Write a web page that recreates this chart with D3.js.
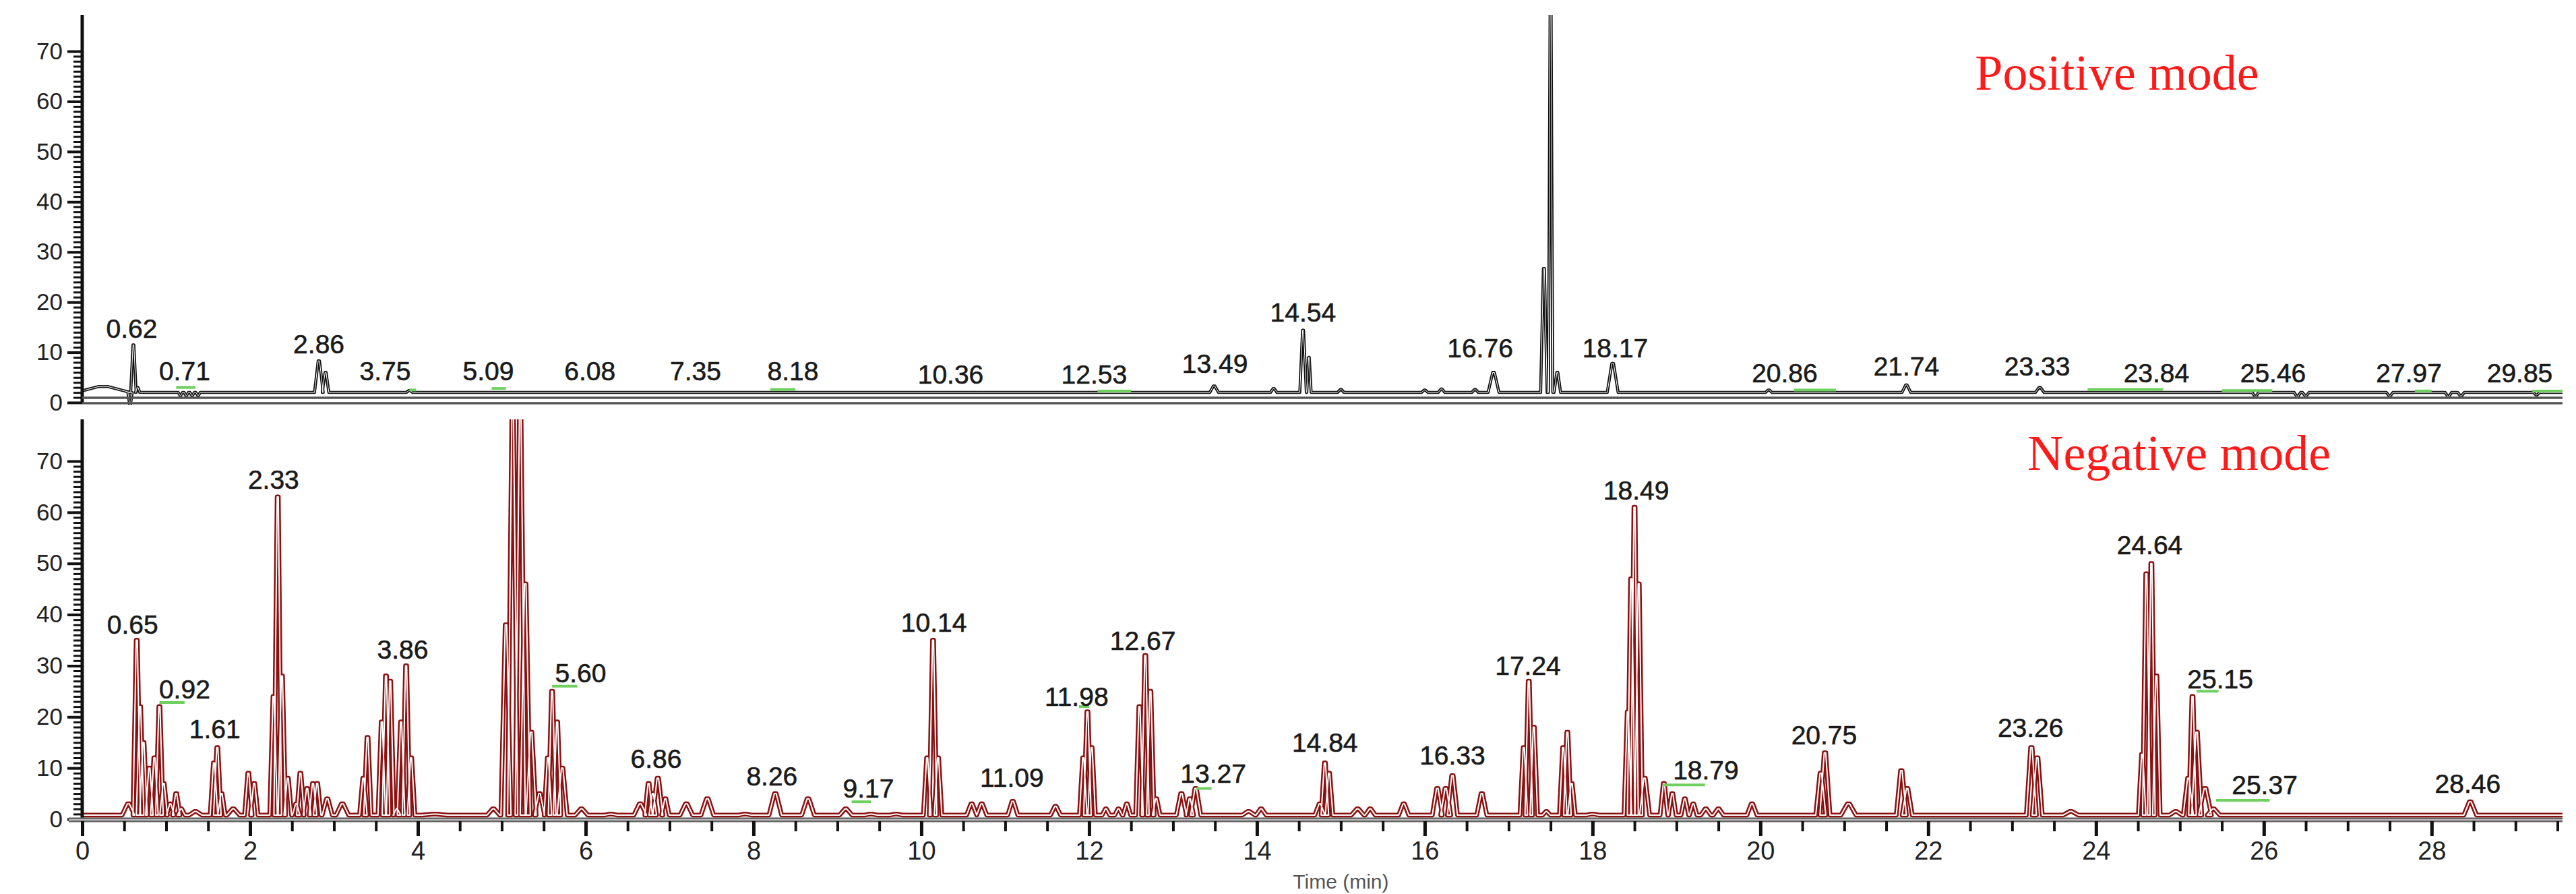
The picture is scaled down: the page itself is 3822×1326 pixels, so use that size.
<!DOCTYPE html>
<html>
<head>
<meta charset="utf-8">
<script src="https://cdn.jsdelivr.net/npm/d3@7"></script>
<style>
  html, body { margin: 0; padding: 0; background: #fff; overflow: hidden; }
  text { font-family: "Liberation Sans", Arial, sans-serif; }
</style>
</head>
<body>
<svg id="chart" width="3822" height="1326"></svg>
<script>
// peaks: [time (min), height, half width]
var posBaseline = 2;
var posPeaks = [
  [0.25, 3.2, 0.25], [0.57, -0.5, 0.02], [0.61, 11.5, 0.025], [0.66, 3, 0.02],
  [1.17, 1.4, 0.02], [1.24, 1.4, 0.02], [1.31, 1.4, 0.02], [1.38, 1.4, 0.02],
  [2.82, 8.3, 0.04], [2.9, 6, 0.03], [3.9, 2.4, 0.03], [13.49, 3.3, 0.04], [14.2, 2.8, 0.03],
  [14.55, 14.4, 0.03], [14.62, 9, 0.02], [15.0, 2.6, 0.03], [16.0, 2.5, 0.03], [16.2, 2.7, 0.03],
  [16.6, 2.6, 0.03], [16.82, 6, 0.05], [17.42, 26.7, 0.03], [17.5, 85, 0.02], [17.58, 6, 0.03],
  [18.24, 7.8, 0.05], [20.1, 2.5, 0.03], [21.74, 3.5, 0.04], [23.33, 3, 0.04], [25.9, 1.2, 0.03],
  [26.4, 1.2, 0.03], [26.5, 1.3, 0.03], [27.5, 1.3, 0.03], [28.2, 1.2, 0.03], [28.35, 1.3, 0.03], [29.25, 1.5, 0.03]
];
var negBaseline = 0.8;
var negPeaks = [
  [0.55,3,0.05],[0.65,35,0.03],[0.69,22,0.03],[0.73,15,0.03],[0.8,10,0.03],[0.86,12,0.03],[0.92,22,0.03],
  [0.97,7,0.03],[1.05,3,0.03],[1.12,5,0.03],[1.18,2,0.03],[1.35,1.5,0.05],[1.57,11,0.03],[1.61,14,0.03],
  [1.66,5,0.03],[1.8,2,0.05],[1.98,9,0.03],[2.05,7,0.03],[2.28,24,0.03],[2.33,63,0.03],[2.38,28,0.03],
  [2.45,8,0.03],[2.55,3,0.03],[2.6,9,0.03],[2.68,6,0.03],[2.75,7,0.03],[2.8,7,0.03],[2.92,4,0.04],
  [3.1,3,0.05],[3.35,8,0.03],[3.4,16,0.03],[3.57,19,0.03],[3.62,28,0.03],[3.67,27,0.03],[3.75,2,0.03],
  [3.8,19,0.03],[3.86,30,0.03],[3.92,12,0.03],[4.2,1,0.1],[4.9,2,0.05],[5.05,38,0.04],[5.13,80,0.04],
  [5.22,80,0.04],[5.28,46,0.04],[5.35,17,0.04],[5.45,5,0.04],[5.55,12,0.03],[5.6,25,0.03],[5.66,19,0.03],
  [5.72,10,0.04],[5.95,2,0.05],[6.3,1,0.05],[6.65,3,0.05],[6.75,7,0.03],[6.8,5,0.03],[6.86,8,0.04],
  [6.95,4,0.03],[7.2,3,0.05],[7.45,4,0.05],[7.9,1,0.05],[8.26,5,0.05],[8.65,4,0.05],[9.1,2,0.05],
  [9.4,1,0.05],[9.7,1,0.05],[10.07,12,0.03],[10.14,35,0.03],[10.2,12,0.03],[10.6,3,0.04],[10.72,3,0.04],
  [11.09,3.5,0.04],[11.6,2.5,0.04],[11.93,12,0.03],[11.98,21,0.03],[12.03,14,0.03],[12.2,2,0.03],
  [12.35,2,0.03],[12.45,3,0.03],[12.6,22,0.03],[12.67,32,0.03],[12.73,25,0.03],[12.8,4,0.03],[13.1,5,0.04],
  [13.2,4,0.03],[13.27,6,0.04],[13.9,1.5,0.05],[14.05,2,0.04],[14.75,3,0.04],[14.81,11,0.03],[14.86,9,0.03],
  [15.2,2,0.05],[15.35,2,0.04],[15.75,3,0.04],[16.15,6,0.04],[16.25,6,0.04],[16.33,8.5,0.04],[16.68,5,0.04],
  [17.18,14,0.03],[17.24,27,0.03],[17.3,18,0.03],[17.45,1.5,0.03],[17.65,14,0.03],[17.7,17,0.03],
  [17.75,7,0.03],[18.0,1,0.05],[18.42,21,0.03],[18.46,47,0.03],[18.5,61,0.03],[18.55,46,0.03],
  [18.62,8,0.04],[18.85,7,0.03],[18.95,5,0.03],[19.1,4,0.03],[19.2,3,0.03],[19.35,2,0.04],[19.5,2,0.04],
  [19.9,3,0.04],[20.72,9,0.04],[20.77,13,0.04],[21.05,3,0.06],[21.68,9.5,0.04],[21.75,6,0.04],
  [23.23,14,0.04],[23.3,12,0.04],[23.7,1.5,0.06],[24.55,12.7,0.03],[24.6,48,0.03],[24.66,50,0.03],
  [24.72,28,0.03],[24.95,1.5,0.05],[25.1,8,0.04],[25.15,24,0.03],[25.2,17,0.04],[25.3,6,0.05],
  [25.4,2,0.05],[28.46,3.4,0.05]
];
// labels: [text, time position, height]
var posLabels = [
  ["0.62",0.59,12.9],["0.71",1.22,4.4],["2.86",2.82,9.8],["3.75",3.61,4.4],["5.09",4.84,4.4],
  ["6.08",6.05,4.4],["7.35",7.31,4.4],["8.18",8.47,4.4],["10.36",10.35,3.8],["12.53",12.06,3.8],
  ["13.49",13.5,5.9],["14.54",14.55,16.1],["16.76",16.66,9],["18.17",18.27,9],["20.86",20.29,4],
  ["21.74",21.74,5.4],["23.33",23.3,5.4],["23.84",24.72,4],["25.46",26.11,4],["27.97",27.73,4],["29.85",29.05,4]
];
var negLabels = [
  ["0.65",0.6,36.2],["0.92",1.22,23.6],["1.61",1.58,15.8],["2.33",2.28,64.6],["3.86",3.82,31.4],
  ["5.60",5.94,26.7],["6.86",6.84,10],["8.26",8.22,6.6],["9.17",9.37,4.2],["10.14",10.15,36.6],
  ["11.09",11.08,6.3],["11.98",11.85,22.1],["12.67",12.64,33.1],["13.27",13.48,7.1],["14.84",14.81,13.2],
  ["16.33",16.33,10.7],["17.24",17.23,28.2],["18.49",18.52,62.5],["18.79",19.35,7.8],["20.75",20.76,14.6],
  ["23.26",23.22,16.1],["24.64",24.64,51.8],["25.15",25.48,25.6],["25.37",26.01,4.9],["28.46",28.43,5.1]
];
// integration marks: [start, end, height]
var posMarks = [[1.12,1.35,3.0],[3.9,3.98,2.5],[4.88,5.05,2.8],[8.2,8.5,2.6],[12.1,12.5,2.3],
  [20.4,20.9,2.5],[23.9,24.8,2.6],[25.5,26.1,2.4],[27.8,28.0,2.3],[29.2,29.6,2.3]];
var negMarks = [[0.92,1.22,22.8],[5.6,5.9,26],[9.17,9.4,3.4],[11.88,12.0,22],[13.28,13.46,6],
  [18.84,19.34,6.7],[25.2,25.46,25],[25.43,26.07,3.7]];
var yTicks = [0, 10, 20, 30, 40, 50, 60, 70];
var xTicks = [0, 2, 4, 6, 8, 10, 12, 14, 16, 18, 20, 22, 24, 26, 28];

var svg = d3.select("#chart");
var x = d3.scaleLinear().domain([0, 29.56]).range([122, 3802]);

function toPoints(peaks, base, spread) {
  var pts = [[0, base]];
  peaks.forEach(function(p) {
    var w = p[2] * spread;
    pts.push([p[0] - w, base], [p[0] - w * 0.15, p[1]], [p[0] + w * 0.15, p[1]], [p[0] + w, base]);
  });
  pts.push([29.56, base]);
  return pts;
}

function panel(o) {
  var y = d3.scaleLinear().domain([0, 70]).range([o.y0, o.y70]);
  var clipId = "clip" + o.name;
  svg.append("clipPath").attr("id", clipId).append("rect")
    .attr("x", x(0)).attr("y", o.top).attr("width", x(29.56) - x(0)).attr("height", o.y0 - o.top + 4);
  var g = svg.append("g").attr("clip-path", "url(#" + clipId + ")");
  var line = d3.line().x(function(d) { return x(d[0]); }).y(function(d) { return y(d[1]); });
  var pts = toPoints(o.peaks, o.base, o.spread);
  g.append("path").attr("d", line(pts)).attr("fill", "none")
    .attr("stroke", o.color).attr("stroke-width", o.outer).attr("stroke-linejoin", "round");
  g.append("path").attr("d", line(pts)).attr("fill", "none")
    .attr("stroke", "#fff").attr("stroke-width", o.inner).attr("stroke-linejoin", "round");
  g.selectAll(".mark").data(o.marks).enter().append("line")
    .attr("x1", function(d) { return x(d[0]); }).attr("x2", function(d) { return x(d[1]); })
    .attr("y1", function(d) { return y(d[2]); }).attr("y2", function(d) { return y(d[2]); })
    .attr("stroke", "#6fcf5f").attr("stroke-width", 4);
  svg.append("clipPath").attr("id", clipId + "l").append("rect")
    .attr("x", 0).attr("y", 0).attr("width", x(29.56)).attr("height", 1326);
  var lg = svg.append("g").attr("clip-path", "url(#" + clipId + "l)");
  lg.selectAll("text").data(o.labels).enter().append("text")
    .attr("x", function(d) { return x(d[1]); }).attr("y", function(d) { return y(d[2]); })
    .attr("text-anchor", "middle").attr("font-size", 39).attr("fill", "#1a1a1a")
    .attr("stroke", "#1a1a1a").attr("stroke-width", 0.6)
    .text(function(d) { return d[0]; });

  // y axis: minor ticks every unit, labelled every 10
  var minor = d3.range(0, 71, 1);
  svg.append("g").attr("transform", "translate(" + x(0) + ",0)")
    .call(d3.axisLeft(y).tickValues(minor).tickSize(13).tickFormat("").tickSizeOuter(0))
    .call(function(a) { a.select(".domain").remove(); a.selectAll("line").attr("stroke", "#111").attr("stroke-width", 3); });
  var ya = svg.append("g").attr("transform", "translate(" + x(0) + ",0)")
    .call(d3.axisLeft(y).tickValues(yTicks).tickSize(22).tickSizeOuter(0));
  ya.select(".domain").remove();
  ya.selectAll("line").attr("stroke", "#111").attr("stroke-width", 4);
  ya.selectAll("text").attr("font-size", 35).attr("fill", "#222").attr("dx", "-4");
  svg.append("line").attr("x1", x(0)).attr("x2", x(0)).attr("y1", o.top).attr("y2", o.y0 + 2)
    .attr("stroke", "#111").attr("stroke-width", 5);

  svg.append("text").attr("x", o.titleX).attr("y", o.titleY).attr("text-anchor", "middle")
    .style("font-family", "'Liberation Serif', 'Times New Roman', serif")
    .attr("font-size", 74).attr("fill", "#ff1a1a").text(o.title);
  return y;
}

panel({ name: "pos", y0: 597, y70: 76, top: 22, peaks: posPeaks, base: posBaseline, spread: 1.3,
  color: "#111", outer: 4.5, inner: 1.0, labels: posLabels, marks: posMarks,
  title: "Positive mode", titleX: 3141, titleY: 133 });
panel({ name: "neg", y0: 1215, y70: 684, top: 622, peaks: negPeaks, base: negBaseline, spread: 1.5,
  color: "#8b1010", outer: 7, inner: 2.0, labels: negLabels, marks: negMarks,
  title: "Negative mode", titleX: 3233, titleY: 697 });

// top panel bottom double rule
[590, 598].forEach(function(yy) {
  svg.append("line").attr("x1", x(0)).attr("x2", x(29.56)).attr("y1", yy).attr("y2", yy)
    .attr("stroke", "#555").attr("stroke-width", 3.5);
});

// bottom x axis
svg.append("line").attr("x1", x(0) - 20).attr("x2", x(29.56)).attr("y1", 1216).attr("y2", 1216)
  .attr("stroke", "#666").attr("stroke-width", 7);
svg.append("line").attr("x1", x(0) - 20).attr("x2", x(29.56)).attr("y1", 1216).attr("y2", 1216)
  .attr("stroke", "#bbb").attr("stroke-width", 2);
var xMinor = d3.range(0, 29.6, 0.5);
svg.append("g").attr("transform", "translate(0,1218)")
  .call(d3.axisBottom(x).tickValues(xMinor).tickSize(15).tickFormat("").tickSizeOuter(0))
  .call(function(a) { a.select(".domain").remove(); a.selectAll("line").attr("stroke", "#111").attr("stroke-width", 4); });
var xa = svg.append("g").attr("transform", "translate(0,1218)")
  .call(d3.axisBottom(x).tickValues(xTicks).tickSize(22).tickSizeOuter(0));
xa.select(".domain").remove();
xa.selectAll("line").attr("stroke", "#111").attr("stroke-width", 5);
xa.selectAll("text").attr("font-size", 38).attr("fill", "#222").attr("dy", "0.85em");

svg.append("text").attr("x", x(15)).attr("y", 1318).attr("text-anchor", "middle")
  .attr("font-size", 30).attr("fill", "#555").text("Time (min)");
</script>
</body>
</html>
